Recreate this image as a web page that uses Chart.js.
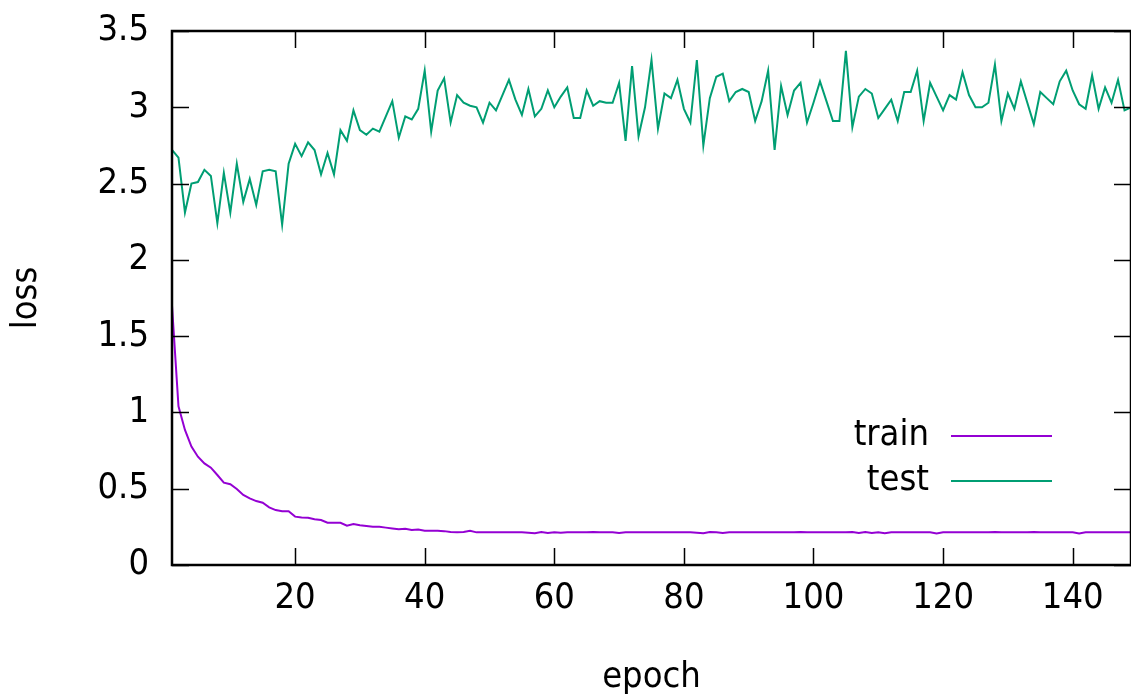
<!DOCTYPE html>
<html lang="en">

<head>
    <meta charset="UTF-8">
    <title>loss</title>
    <script src="https://cdn.jsdelivr.net/npm/chart.js@4.4.1/dist/chart.umd.min.js"></script>
    <style>
        body { margin: 0; background: #fff; }
        #wrap { width: 1131px; height: 697px; }
    </style>
</head>

<body>
    <div id="wrap"><canvas id="myChart" width="1131" height="697"></canvas></div>

    <script>
        // data
        const seriesNames = ['train', 'test']
        const xTicks = [20, 40, 60, 80, 100, 120, 140]
        const yTicks = [0, 0.5, 1, 1.5, 2, 2.5, 3, 3.5]

        const trainLoss = [
            1.70, 1.04, 0.885, 0.776, 0.71, 0.666, 0.638, 0.59, 0.54, 0.529,
            0.498, 0.459, 0.437, 0.419, 0.408, 0.378, 0.36, 0.352, 0.352, 0.317,
            0.312, 0.31, 0.30, 0.295, 0.277, 0.277, 0.277, 0.258, 0.268, 0.26,
            0.255, 0.25, 0.25, 0.245, 0.24, 0.235, 0.238, 0.23, 0.232, 0.225,
            0.225, 0.225, 0.222, 0.217, 0.215, 0.216, 0.225, 0.214, 0.214, 0.214,
            0.214, 0.214, 0.214, 0.214, 0.214, 0.212, 0.208, 0.216, 0.21, 0.214,
            0.212, 0.214, 0.214, 0.214, 0.214, 0.216, 0.214, 0.214, 0.214, 0.21,
            0.214, 0.214, 0.214, 0.214, 0.214, 0.214, 0.214, 0.214, 0.214, 0.214,
            0.214, 0.212, 0.208, 0.216, 0.214, 0.21, 0.214, 0.214, 0.214, 0.214,
            0.214, 0.214, 0.214, 0.214, 0.214, 0.214, 0.214, 0.216, 0.214, 0.214,
            0.214, 0.214, 0.214, 0.214, 0.214, 0.216, 0.21, 0.216, 0.21, 0.214,
            0.208, 0.214, 0.214, 0.214, 0.214, 0.214, 0.214, 0.214, 0.207, 0.214,
            0.214, 0.214, 0.214, 0.214, 0.214, 0.214, 0.214, 0.216, 0.214, 0.214,
            0.214, 0.214, 0.214, 0.216, 0.214, 0.214, 0.214, 0.214, 0.214, 0.214,
            0.207, 0.214, 0.214, 0.214, 0.214, 0.214, 0.214, 0.214, 0.214
        ]

        const testLoss = [
            2.72, 2.67, 2.31, 2.50, 2.51, 2.59, 2.55, 2.24, 2.57, 2.31,
            2.63, 2.38, 2.53, 2.36, 2.58, 2.59, 2.58, 2.23, 2.63, 2.76,
            2.68, 2.77, 2.72, 2.56, 2.70, 2.56, 2.85, 2.78, 2.98, 2.85,
            2.82, 2.86, 2.84, 2.94, 3.04, 2.80, 2.94, 2.92, 2.99, 3.24,
            2.84, 3.11, 3.19, 2.90, 3.08, 3.03, 3.01, 3.00, 2.90, 3.03,
            2.98, 3.08, 3.18, 3.05, 2.95, 3.12, 2.94, 2.99, 3.11, 3.00,
            3.07, 3.13, 2.93, 2.93, 3.11, 3.01, 3.04, 3.03, 3.03, 3.16,
            2.78, 3.27, 2.81, 3.00, 3.31, 2.86, 3.09, 3.06, 3.18, 2.99,
            2.90, 3.31, 2.75, 3.06, 3.20, 3.22, 3.04, 3.10, 3.12, 3.10,
            2.91, 3.04, 3.24, 2.72, 3.14, 2.95, 3.11, 3.16, 2.90, 3.03,
            3.17, 3.04, 2.91, 2.91, 3.37, 2.87, 3.07, 3.12, 3.09, 2.93,
            2.99, 3.05, 2.91, 3.10, 3.10, 3.24, 2.91, 3.16, 3.07, 2.98,
            3.08, 3.05, 3.23, 3.08, 3.00, 3.00, 3.03, 3.28, 2.91, 3.09,
            2.99, 3.17, 3.03, 2.89, 3.10, 3.06, 3.02, 3.17, 3.24, 3.11,
            3.02, 2.99, 3.21, 2.99, 3.13, 3.03, 3.18, 2.98, 3.00
        ]

        const FONT = "'DejaVu Sans Condensed', 'DejaVu Sans', sans-serif"
        const colors = ['#9400d3', '#009e73']

        // epoch number = position in array + 1
        const toPoints = arr => arr.map((v, i) => ({ x: i + 1, y: v }))

        // gnuplot style box with inward ticks, plus the key at the lower right
        const gnuFrame = {
            id: 'gnuFrame',
            afterDatasetsDraw(chart) {
                const { ctx, chartArea: a, scales: { x, y } } = chart
                ctx.save()
                ctx.strokeStyle = '#000'
                ctx.lineWidth = 1.5
                ctx.beginPath()
                xTicks.forEach(t => {
                    const px = Math.round(x.getPixelForValue(t)) + 0.5
                    ctx.moveTo(px, a.bottom); ctx.lineTo(px, a.bottom - 17)
                    ctx.moveTo(px, a.top); ctx.lineTo(px, a.top + 17)
                })
                yTicks.forEach(t => {
                    const py = Math.round(y.getPixelForValue(t)) + 0.5
                    ctx.moveTo(a.left, py); ctx.lineTo(a.left + 17, py)
                    ctx.moveTo(a.right, py); ctx.lineTo(a.right - 17, py)
                })
                ctx.stroke()
                ctx.lineWidth = 2.5
                ctx.strokeRect(a.left, a.top, a.right - a.left, a.bottom - a.top)

                // key
                ctx.font = '36px ' + FONT
                ctx.textAlign = 'right'
                ctx.textBaseline = 'alphabetic'
                chart.data.datasets.forEach((ds, i) => {
                    const ly = 436 + i * 45
                    ctx.fillStyle = '#000'
                    ctx.fillText(ds.label, 929, ly + 9)
                    ctx.strokeStyle = ds.borderColor
                    ctx.lineWidth = 2
                    ctx.beginPath()
                    ctx.moveTo(951, ly); ctx.lineTo(1052, ly)
                    ctx.stroke()
                })
                ctx.restore()
            }
        }

        const ctx = document.getElementById('myChart').getContext('2d')
        const myChart = new Chart(ctx, {
            type: 'line',
            data: {
                datasets: [{
                    label: seriesNames[0],
                    data: toPoints(trainLoss),
                    borderColor: colors[0],
                    borderWidth: 2,
                    pointRadius: 0,
                    tension: 0
                }, {
                    label: seriesNames[1],
                    data: toPoints(testLoss),
                    borderColor: colors[1],
                    borderWidth: 2,
                    pointRadius: 0,
                    tension: 0
                }]
            },
            plugins: [gnuFrame],
            options: {
                responsive: false,
                animation: false,
                layout: { padding: { top: 31, right: 0, left: 0, bottom: 0 } },
                plugins: {
                    legend: { display: false },
                    tooltip: { enabled: false }
                },
                scales: {
                    x: {
                        type: 'linear',
                        min: 1,
                        max: 149,
                        afterBuildTicks: s => { s.ticks = xTicks.map(v => ({ value: v })) },
                        afterFit: s => { s.height = 132; s.paddingLeft = 0; s.paddingRight = 0 },
                        grid: { display: false, drawTicks: false },
                        border: { display: false },
                        ticks: {
                            color: '#000',
                            padding: 12,
                            maxRotation: 0,
                            font: { family: FONT, size: 36 }
                        },
                        title: {
                            display: true,
                            text: 'epoch',
                            color: '#000',
                            padding: { top: 0, bottom: 0 },
                            font: { family: FONT, size: 36, lineHeight: 1.1 }
                        }
                    },
                    y: {
                        min: 0,
                        max: 3.5,
                        afterBuildTicks: s => { s.ticks = yTicks.map(v => ({ value: v })) },
                        afterFit: s => { s.width = 172; s.paddingTop = 0; s.paddingBottom = 0 },
                        grid: { display: false, drawTicks: false },
                        border: { display: false },
                        ticks: {
                            color: '#000',
                            padding: 23,
                            font: { family: FONT, size: 36 },
                            callback: v => String(v)
                        },
                        title: {
                            display: true,
                            text: 'loss',
                            color: '#000',
                            padding: { top: 5, bottom: 0 },
                            font: { family: FONT, size: 36 }
                        }
                    }
                }
            }
        })
    </script>
</body>

</html>
